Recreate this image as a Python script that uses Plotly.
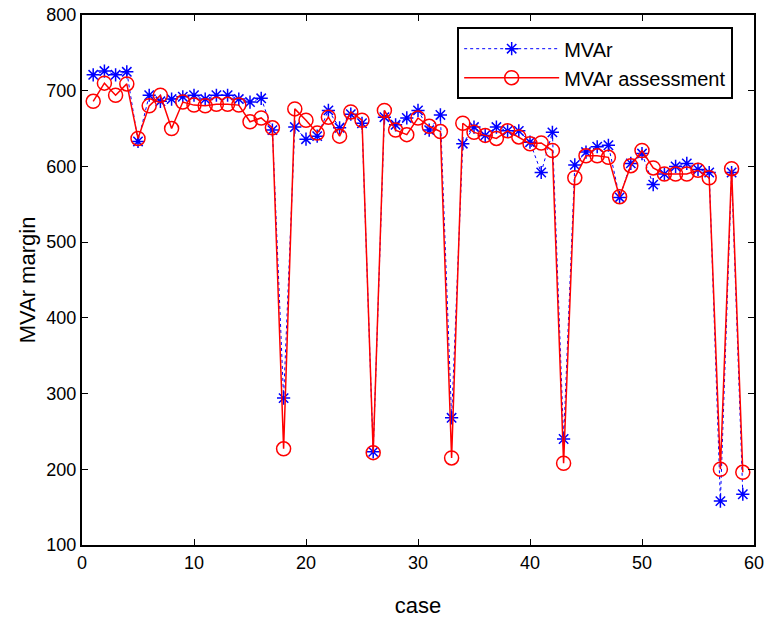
import plotly.graph_objects as go

cases = list(range(1, 60))
mvar = [721, 726, 721, 725, 633, 694, 686, 689, 692, 694,
        689, 694, 694, 689, 685, 690, 648, 294, 652, 636,
        640, 674, 651, 669, 657, 223, 665, 655, 664, 674,
        648, 668, 268, 630, 652, 641, 652, 647, 647, 632,
        592, 645, 240, 602, 619, 626, 628, 559, 604, 617,
        576, 590, 600, 604, 596, 592, 158, 592, 167]
mvar_assess = [686, 710, 694, 709, 637, 680, 694, 650, 685, 681,
               680, 682, 682, 681, 659, 664, 651, 227, 676, 661,
               644, 665, 640, 672, 661, 222, 674, 648, 642, 664,
               653, 646, 215, 657, 645, 641, 637, 647, 639, 630,
               631, 621, 208, 585, 614, 614, 612, 560, 601, 621,
               598, 590, 590, 590, 595, 585, 200, 597, 196]
x_ticks = [0, 10, 20, 30, 40, 50, 60]
y_ticks = [100, 200, 300, 400, 500, 600, 700, 800]

font = "Liberation Sans, Arial, sans-serif"

fig = go.Figure()
fig.add_trace(go.Scatter(
    x=cases, y=mvar, name="MVAr", mode="lines+markers",
    line=dict(color="#0000ff", width=1, dash="dot"),
    marker=dict(symbol="asterisk-open", size=11, color="#0000ff",
                line=dict(color="#0000ff", width=1.5)),
))
fig.add_trace(go.Scatter(
    x=cases, y=mvar_assess, name="MVAr assessment", mode="lines+markers",
    line=dict(color="#ff0000", width=1.5),
    marker=dict(symbol="circle-open", size=14, color="#ff0000",
                line=dict(color="#ff0000", width=1.5)),
))

axis_common = dict(
    showline=True, linecolor="black", linewidth=2, mirror="ticks",
    ticks="inside", ticklen=6, tickwidth=1, tickcolor="black",
    showgrid=False, zeroline=False, automargin=False,
    tickfont=dict(family=font, size=18, color="black"),
)
fig.update_xaxes(range=[0, 60], tickvals=x_ticks,
                 title=dict(text="case", font=dict(family=font, size=22, color="black"), standoff=26),
                 **axis_common)
fig.update_yaxes(range=[100, 800], tickvals=y_ticks,
                 title=dict(text="MVAr margin", font=dict(family=font, size=22, color="black"), standoff=5),
                 **axis_common)

fig.update_layout(
    width=766, height=623,
    margin=dict(l=82, r=12, t=15, b=78),
    plot_bgcolor="white", paper_bgcolor="white",
    showlegend=True,
    legend=dict(
        x=0.969, y=0.977, xanchor="right", yanchor="top",
        bgcolor="white", bordercolor="black", borderwidth=2,
        font=dict(family=font, size=20, color="black"),
        itemwidth=95, tracegroupgap=0,
    ),
)

fig.write_html("out.html")
